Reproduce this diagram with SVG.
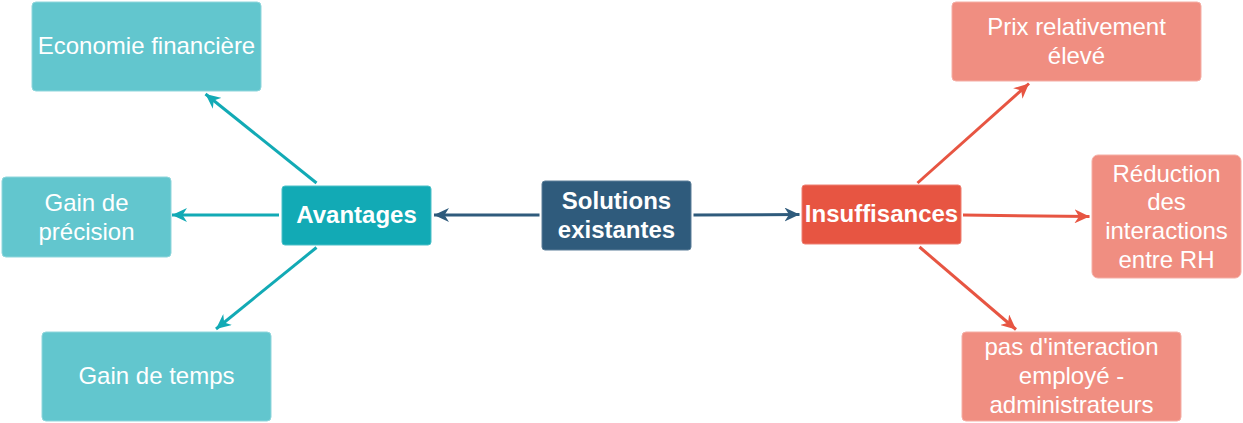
<svg xmlns="http://www.w3.org/2000/svg" width="1243" height="423" viewBox="0 0 1243 423">
<style>
text{font-family:"Liberation Sans",Arial,sans-serif;font-size:24px;fill:#ffffff;text-anchor:middle}
.b{font-weight:bold}
.lt{fill:#62c6ce;stroke:#8fd6dc;stroke-width:1}
.ls{fill:#f08e81;stroke:#f5aea5;stroke-width:1}
.av{fill:#12aab5;stroke:#4cc0c8;stroke-width:1}
.so{fill:#2f5b7c;stroke:#5c7f99;stroke-width:1}
.in{fill:#e75542;stroke:#ee8072;stroke-width:1}
.c{fill:none;stroke-width:3}
.ct{stroke:#12aab5}
.cb{stroke:#2f5b7c}
.cr{stroke:#e75542}
</style>
<defs>
<marker id="at" markerUnits="userSpaceOnUse" viewBox="0 0 16 14" markerWidth="16" markerHeight="14" refX="15" refY="7" orient="auto"><path d="M0,0 L15,7 L0,14 L4.5,7 Z" fill="#12aab5"/></marker>
<marker id="ab" markerUnits="userSpaceOnUse" viewBox="0 0 16 14" markerWidth="16" markerHeight="14" refX="15" refY="7" orient="auto"><path d="M0,0 L15,7 L0,14 L4.5,7 Z" fill="#2f5b7c"/></marker>
<marker id="ar" markerUnits="userSpaceOnUse" viewBox="0 0 16 14" markerWidth="16" markerHeight="14" refX="15" refY="7" orient="auto"><path d="M0,0 L15,7 L0,14 L4.5,7 Z" fill="#e75542"/></marker>
</defs>
<g id="connectors">
<line class="c ct" x1="316.5" y1="183" x2="205.5" y2="94" marker-end="url(#at)"/>
<line class="c ct" x1="279" y1="215" x2="172" y2="215" marker-end="url(#at)"/>
<line class="c ct" x1="316.5" y1="247.5" x2="216" y2="329" marker-end="url(#at)"/>
<line class="c cb" x1="539.5" y1="215" x2="434" y2="215" marker-end="url(#ab)"/>
<line class="c cb" x1="693.5" y1="215" x2="799.5" y2="214.5" marker-end="url(#ab)"/>
<line class="c cr" x1="917.5" y1="183" x2="1029" y2="83.5" marker-end="url(#ar)"/>
<line class="c cr" x1="963" y1="215" x2="1089.5" y2="216.5" marker-end="url(#ar)"/>
<line class="c cr" x1="919.5" y1="247" x2="1016" y2="329.5" marker-end="url(#ar)"/>
</g>
<g id="economie"><rect class="lt" x="32" y="2" width="229" height="89" rx="4"/><text x="146.5" y="54">Economie financière</text></g>
<g id="precision"><rect class="lt" x="2" y="177" width="169" height="80" rx="4"/><text x="86.5" y="211">Gain de</text><text x="86.5" y="239.5">précision</text></g>
<g id="avantages"><rect class="av" x="282" y="186" width="149" height="59" rx="3"/><text class="b" x="356.5" y="222.5">Avantages</text></g>
<g id="temps"><rect class="lt" x="42" y="332" width="229" height="89" rx="4"/><text x="156.5" y="384">Gain de temps</text></g>
<g id="solutions"><rect class="so" x="542" y="181" width="149" height="69" rx="3"/><text class="b" x="616.5" y="208.5">Solutions</text><text class="b" x="616.5" y="237.5">existantes</text></g>
<g id="insuffisances"><rect class="in" x="802" y="185" width="159" height="59" rx="3"/><text class="b" x="881.5" y="221.5">Insuffisances</text></g>
<g id="prix"><rect class="ls" x="952" y="2" width="249" height="79" rx="4"/><text x="1076.5" y="35">Prix relativement</text><text x="1076.5" y="63.5">élevé</text></g>
<g id="reduction"><rect class="ls" x="1092" y="155" width="149" height="123" rx="6"/><text x="1166.5" y="181.5">Réduction</text><text x="1166.5" y="210">des</text><text x="1166.5" y="239">interactions</text><text x="1166.5" y="268">entre RH</text></g>
<g id="pas"><rect class="ls" x="962" y="332" width="219" height="89" rx="4"/><text x="1071.5" y="355">pas d'interaction</text><text x="1071.5" y="384">employé -</text><text x="1071.5" y="412.5">administrateurs</text></g>
</svg>
